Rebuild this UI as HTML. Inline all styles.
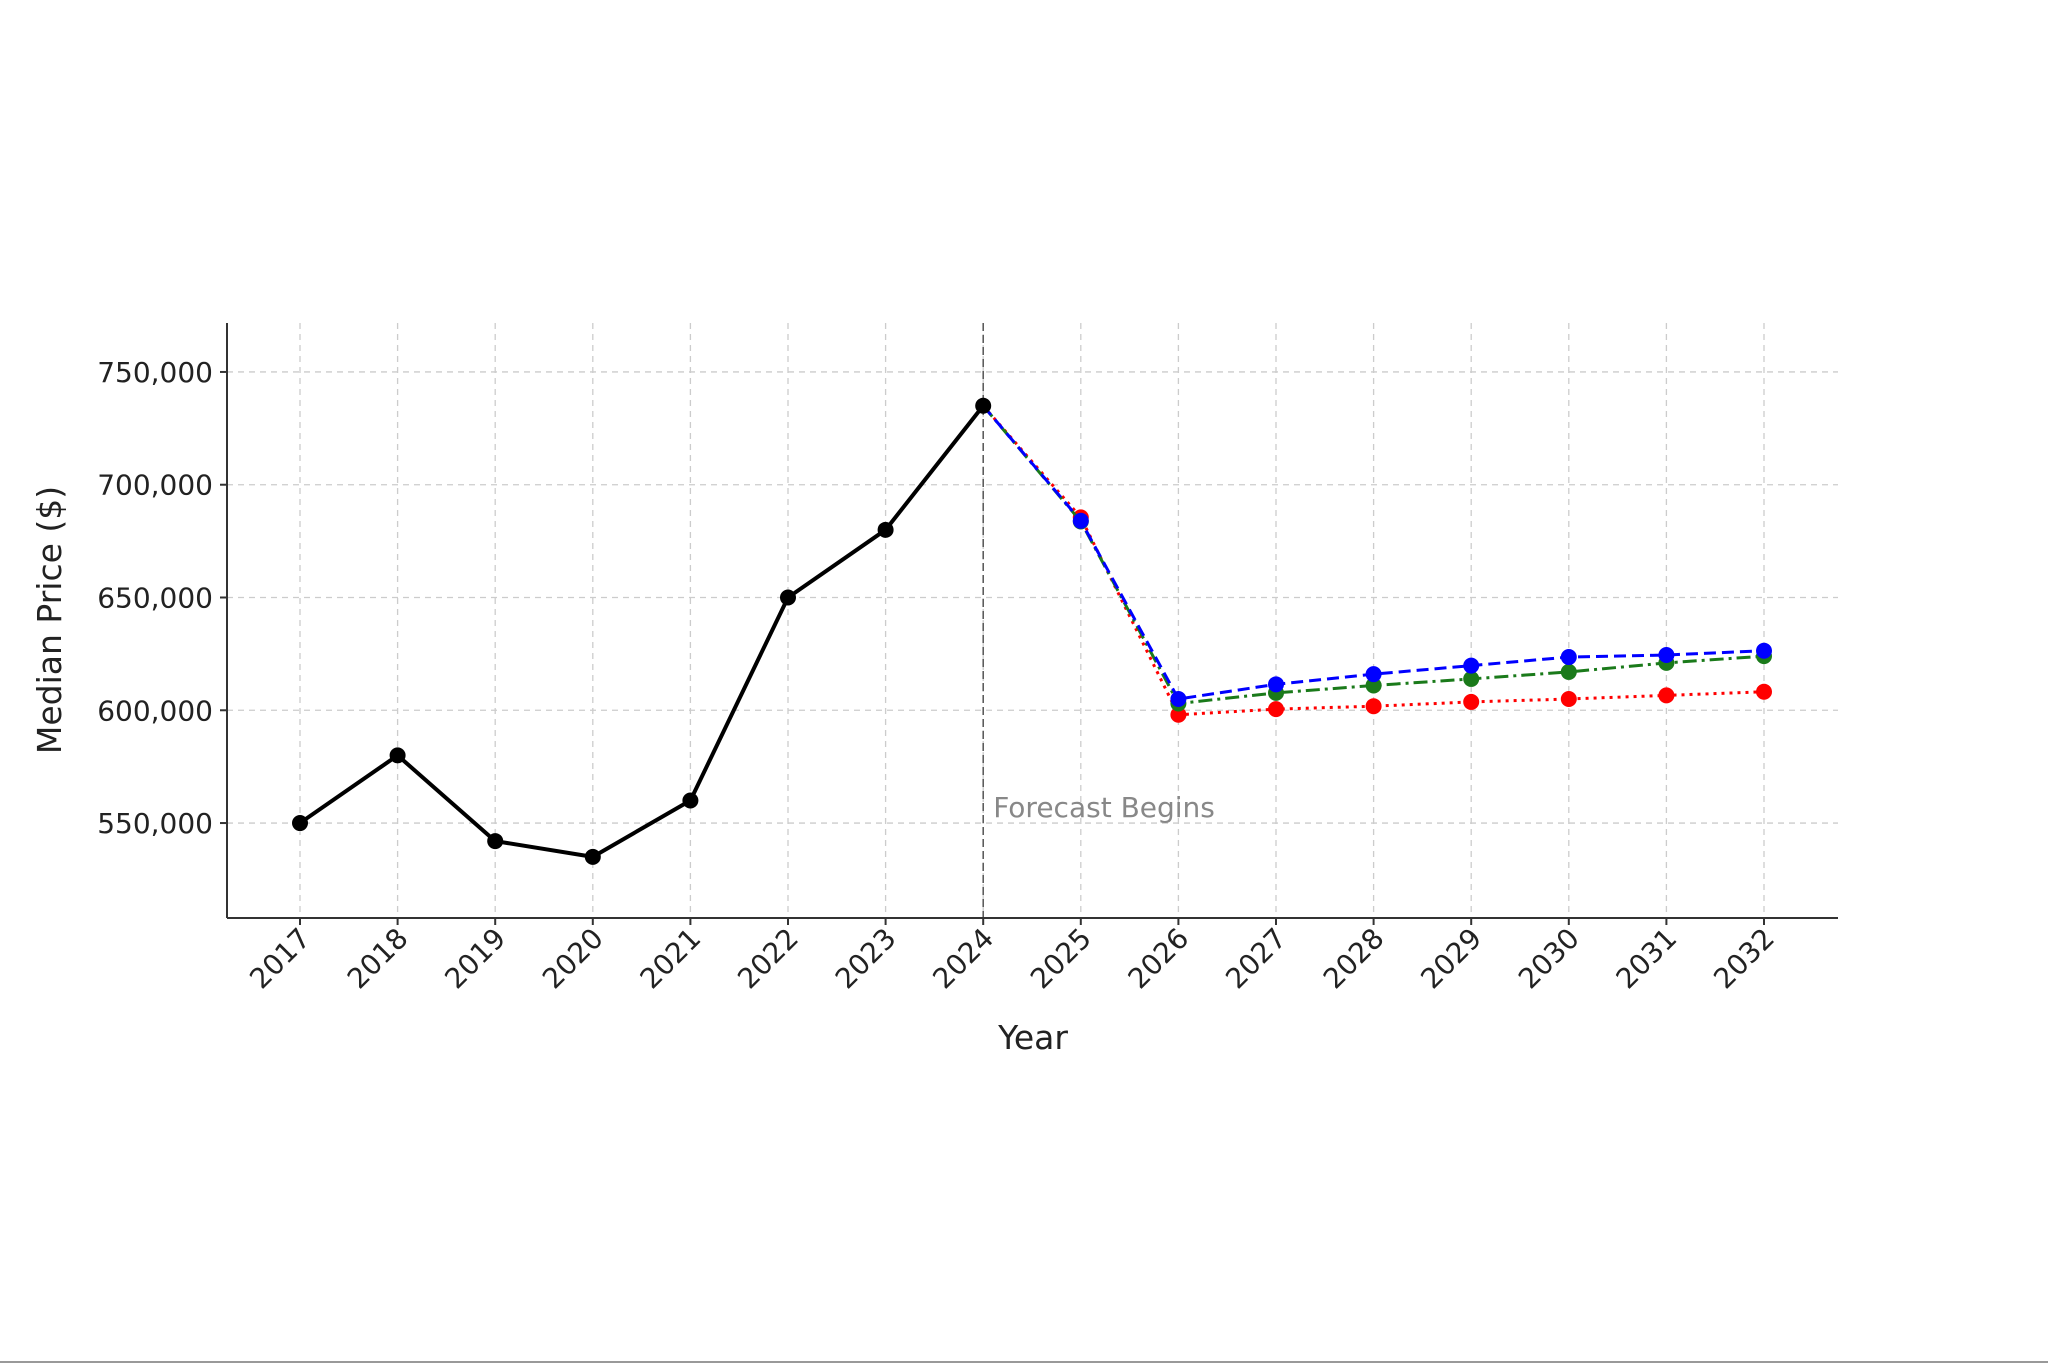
<!DOCTYPE html>
<html><head><meta charset="utf-8"><style>
html,body{margin:0;padding:0;background:#fff;}
svg{display:block;font-family:"DejaVu Sans","Liberation Sans",sans-serif;}
</style></head><body>
<svg id="chart" width="2048" height="1365" viewBox="0 0 2048 1365" xmlns="http://www.w3.org/2000/svg">
<rect x="0" y="0" width="2048" height="1365" fill="#fff"/>
<line x1="0" y1="1362" x2="2048" y2="1362" stroke="#999" stroke-width="2"/>
<g id="grid"></g>
<g id="marks"></g>
<g id="axes"></g>
</svg>
<script>
const years = [2017,2018,2019,2020,2021,2022,2023,2024,2025,2026,2027,2028,2029,2030,2031,2032];
const historical = [550000,580000,542000,535000,560000,650000,680000,735000];
const forecastYears = [2024,2025,2026,2027,2028,2029,2030,2031,2032];
const forecastBlue = [735000,684000,605000,611500,616000,619800,623600,624500,626400];
const forecastGreen = [735000,683700,603000,607700,611000,613900,617000,621000,624000];
const forecastRed = [735000,685500,598000,600500,601800,603700,605000,606600,608200];
const yTicks = [550000,600000,650000,700000,750000];
const yTickLabels = ["550,000","600,000","650,000","700,000","750,000"];

const L=227,R=1838,T=323,B=918;
const yMin=507900,yMax=771700;
const x = yr => 300 + (yr-2017)*(1764-300)/15;
const y = v => B - (v-yMin)/(yMax-yMin)*(B-T);
const NS="http://www.w3.org/2000/svg";
function mk(tag,parent,attrs){const e=document.createElementNS(NS,tag);for(const k in attrs)e.setAttribute(k,attrs[k]);parent.appendChild(e);return e;}
const grid=document.getElementById('grid'),marks=document.getElementById('marks'),axes=document.getElementById('axes');

years.forEach(yr=>{
  const g=mk('line',grid,{x1:x(yr),x2:x(yr),y1:T,y2:B,stroke:'#ccc','stroke-width':1.3,'stroke-dasharray':'6,5'});
  
  
});
yTicks.forEach(v=>{
  const g=mk('line',grid,{x1:L,x2:R,y1:y(v),y2:y(v),stroke:'#ccc','stroke-width':1.3,'stroke-dasharray':'6,5'});
  
  
});
// forecast begins line
const vl=mk('line',marks,{x1:x(2024),x2:x(2024),y1:T,y2:B,stroke:'#555','stroke-width':1.5,'stroke-dasharray':'8,4'});


const ft=mk('text',marks,{x:x(2024)+10,y:y(550000)-6,fill:'#888','font-size':28});
ft.textContent='Forecast Begins';



function series(xs,vals,color,dash,width,name){
  const pts=xs.map((yr,i)=>x(yr)+','+y(vals[i])).join(' ');
  const pl=mk('polyline',marks,{points:pts,fill:'none',stroke:color,'stroke-width':width,'stroke-dasharray':dash,'stroke-linejoin':'round'});
  
  
  xs.forEach((yr,i)=>{
    if(name!=='historical' && i===0) return;
    const c=mk('circle',marks,{cx:x(yr),cy:y(vals[i]),r:8,fill:color});
    
    
  });
}
series(forecastRed.length?forecastYears:[],forecastRed,'#ff0000','3,5',3,'forecast-low');
series(forecastYears,forecastGreen,'#1a7a1a','14,5,3,5',3,'forecast-mid');
series(forecastYears,forecastBlue,'#0000ff','12,6',3,'forecast-high');
series(years.slice(0,historical.length),historical,'#000','',4,'historical');

// spines
const sl=mk('line',axes,{x1:L,x2:L,y1:T,y2:B,stroke:'#333','stroke-width':2});


const sb=mk('line',axes,{x1:L,x2:R,y1:B,y2:B,stroke:'#333','stroke-width':2});


yTicks.forEach((v,i)=>{
  const tk=mk('line',axes,{x1:L-7,x2:L,y1:y(v),y2:y(v),stroke:'#333','stroke-width':2});
  
  
  const t=mk('text',axes,{x:L-14,y:y(v)+10,'text-anchor':'end','font-size':28,fill:'#222'});
  t.textContent=yTickLabels[i];
  
  
});
years.forEach(yr=>{
  const tk=mk('line',axes,{x1:x(yr),x2:x(yr),y1:B,y2:B+7,stroke:'#333','stroke-width':2});
  
  
  const t=mk('text',axes,{x:x(yr)+12,y:B+22,'text-anchor':'end','font-size':28,fill:'#222',transform:`rotate(-45 ${x(yr)+12} ${B+22})`});
  t.textContent=String(yr);
  
  
});
const xt=mk('text',axes,{x:1033,y:1049,'text-anchor':'middle','font-size':33,fill:'#222'});
xt.textContent='Year';


const yt=mk('text',axes,{x:61,y:620,'text-anchor':'middle','font-size':33,fill:'#222',transform:'rotate(-90 61 620)'});
yt.textContent='Median Price ($)';


</script>
</body></html>
